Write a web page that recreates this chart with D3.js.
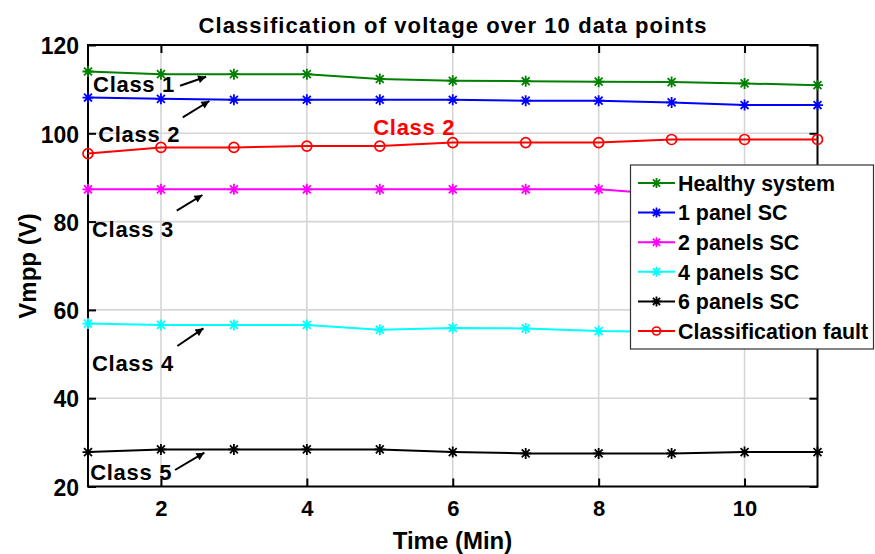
<!DOCTYPE html>
<html>
<head>
<meta charset="utf-8">
<script src="https://cdn.jsdelivr.net/npm/d3@7/dist/d3.min.js"></script>
<style>
  html, body { margin: 0; padding: 0; background: #fff; }
  svg { display: block; font-family: "Liberation Sans", Arial, Helvetica, sans-serif; font-weight: bold; }
</style>
</head>
<body>
<svg id="chart" width="875" height="554"></svg>
<script>
// Time in minutes (data point index)
const timeMin = [1, 2, 3, 4, 5, 6, 7, 8, 9, 10, 11];

// Vmpp (V) for each operating condition
const healthySystem = [114.0, 113.4, 113.4, 113.4, 112.3, 111.9, 111.8, 111.7, 111.6, 111.3, 110.9];
const panel1SC      = [108.1, 107.8, 107.6, 107.6, 107.6, 107.6, 107.4, 107.4, 107.0, 106.4, 106.4];
const panels2SC     = [87.3, 87.3, 87.3, 87.3, 87.3, 87.3, 87.3, 87.3, 86.1, 86.1, 86.1];
const panels4SC     = [56.9, 56.6, 56.6, 56.6, 55.5, 55.9, 55.8, 55.2, 55.0, 55.0, 55.0];
const panels6SC     = [27.8, 28.4, 28.4, 28.4, 28.4, 27.8, 27.5, 27.5, 27.5, 27.8, 27.8];
const classFault    = [95.4, 96.8, 96.8, 97.1, 97.1, 97.9, 97.9, 97.9, 98.6, 98.6, 98.6];

const seriesNames   = ["Healthy system", "1 panel SC", "2 panels SC", "4 panels SC", "6 panels SC", "Classification fault"];
const seriesColors  = ["#008000", "#0000ff", "#ff00ff", "#00ffff", "#000000", "#ff0000"];
const seriesMarkers = ["star", "star", "star", "star", "star", "circle"];
const seriesValues  = [healthySystem, panel1SC, panels2SC, panels4SC, panels6SC, classFault];

const xTicks = [2, 4, 6, 8, 10];
const yTicks = [20, 40, 60, 80, 100, 120];

// Text annotations placed in data coordinates (x in Min, y in V)
const noteTexts  = ["Class 1", "Class 2", "Class 2", "Class 3", "Class 4", "Class 5"];
const noteColors = ["#000000", "#000000", "#ff0000", "#000000", "#000000", "#000000"];
const noteX      = [1.07, 1.14, 4.91, 1.055, 1.055, 1.03];
const noteY      = [109.35, 98.03, 99.6, 76.58, 46.27, 21.47];

// Arrows in data coordinates: tail -> head
const arrowTailX = [2.262, 2.299, 2.217, 2.225, 2.193];
const arrowTailY = [110.78, 103.62, 82.47, 51.82, 23.74];
const arrowHeadX = [2.619, 2.664, 2.568, 2.582, 2.595];
const arrowHeadY = [112.82, 107.32, 86.03, 55.83, 27.66];

// ---- drawing ----
(function draw() {
  const svg = d3.select("#chart");
  const pLeft = 88, pRight = 817.5, pTop = 45, pBottom = 486.5;

  const x = d3.scaleLinear().domain([1, 11]).range([pLeft, pRight]);
  const y = d3.scaleLinear().domain([20, 120]).range([pBottom, pTop]);

  // grid
  const grid = svg.append("g").attr("stroke", "#d6d6d6").attr("stroke-width", 1.6);
  grid.selectAll("line.gx").data(xTicks).join("line").attr("class", "gx")
    .attr("x1", d => x(d)).attr("x2", d => x(d)).attr("y1", pTop).attr("y2", pBottom);
  grid.selectAll("line.gy").data(yTicks.filter(d => d > 20 && d < 120)).join("line").attr("class", "gy")
    .attr("y1", d => y(d)).attr("y2", d => y(d)).attr("x1", pLeft).attr("x2", pRight);

  // axes with inward ticks, mirrored on top/right
  const tickLen = 8;
  const axB = svg.append("g").attr("transform", `translate(0,${pBottom})`)
    .call(d3.axisBottom(x).tickValues(xTicks).tickSizeInner(-tickLen).tickSizeOuter(0).tickPadding(14));
  const axT = svg.append("g").attr("transform", `translate(0,${pTop})`)
    .call(d3.axisTop(x).tickValues(xTicks).tickSizeInner(-tickLen).tickSizeOuter(0).tickFormat(""));
  const axL = svg.append("g").attr("transform", `translate(${pLeft},0)`)
    .call(d3.axisLeft(y).tickValues(yTicks).tickSizeInner(-tickLen).tickSizeOuter(0).tickPadding(9));
  const axR = svg.append("g").attr("transform", `translate(${pRight},0)`)
    .call(d3.axisRight(y).tickValues(yTicks).tickSizeInner(-tickLen).tickSizeOuter(0).tickFormat(""));
  [axB, axT, axL, axR].forEach(a => {
    a.select(".domain").remove();
    a.selectAll(".tick line").attr("stroke", "#000").attr("stroke-width", 2);
    a.selectAll("text").attr("fill", "#000").attr("font-size", 22)
      .attr("font-family", "'Liberation Sans', Arial, sans-serif").attr("font-weight", "bold");
  });
  axL.selectAll("text").attr("font-size", 23).attr("dy", "0.38em");

  // box
  svg.append("rect").attr("x", pLeft).attr("y", pTop).attr("width", pRight - pLeft).attr("height", pBottom - pTop)
    .attr("fill", "none").attr("stroke", "#000").attr("stroke-width", 2);

  // marker drawing helper
  function drawMarker(g, kind, cx, cy, color, r) {
    if (kind === "circle") {
      g.append("circle").attr("cx", cx).attr("cy", cy).attr("r", r)
        .attr("fill", "none").attr("stroke", color).attr("stroke-width", 1.7);
    } else {
      const d = r * 0.72;
      g.append("path")
        .attr("d", `M${cx - r},${cy}H${cx + r}M${cx},${cy - r}V${cy + r}` +
                   `M${cx - d},${cy - d}L${cx + d},${cy + d}M${cx - d},${cy + d}L${cx + d},${cy - d}`)
        .attr("stroke", color).attr("stroke-width", 1.8).attr("fill", "none");
    }
  }

  // series
  const line = d3.line().x(d => x(d[0])).y(d => y(d[1]));
  seriesValues.forEach((vals, i) => {
    const pts = timeMin.map((t, j) => [t, vals[j]]);
    const g = svg.append("g");
    g.append("path").attr("d", line(pts)).attr("fill", "none")
      .attr("stroke", seriesColors[i]).attr("stroke-width", 2);
    pts.forEach(p => drawMarker(g, seriesMarkers[i], x(p[0]), y(p[1]), seriesColors[i],
      seriesMarkers[i] === "circle" ? 5 : 5.5));
  });

  // annotations
  svg.append("defs").append("marker")
    .attr("id", "ahead").attr("viewBox", "0 0 10 10").attr("refX", 10).attr("refY", 5)
    .attr("markerWidth", 10).attr("markerHeight", 8).attr("markerUnits", "userSpaceOnUse")
    .attr("orient", "auto")
    .append("path").attr("d", "M0,0L10,5L0,10Z").attr("fill", "#000");

  arrowTailX.forEach((tx, i) => {
    svg.append("line")
      .attr("x1", x(tx)).attr("y1", y(arrowTailY[i]))
      .attr("x2", x(arrowHeadX[i])).attr("y2", y(arrowHeadY[i]))
      .attr("stroke", "#000").attr("stroke-width", 2).attr("marker-end", "url(#ahead)");
  });

  noteTexts.forEach((t, i) => {
    svg.append("text").attr("x", x(noteX[i])).attr("y", y(noteY[i]))
      .attr("font-size", 22).attr("letter-spacing", 0.7).attr("fill", noteColors[i]).text(t);
  });

  // legend
  const lg = svg.append("g");
  lg.append("rect").attr("x", 630.5).attr("y", 165).attr("width", 243).attr("height", 184)
    .attr("fill", "#fff").attr("stroke", "#333").attr("stroke-width", 1.2);
  seriesNames.forEach((n, i) => {
    const cy = 183 + i * 29.6;
    lg.append("line").attr("x1", 638).attr("x2", 675).attr("y1", cy).attr("y2", cy)
      .attr("stroke", seriesColors[i]).attr("stroke-width", 2);
    drawMarker(lg, seriesMarkers[i], 656.5, cy, seriesColors[i], seriesMarkers[i] === "circle" ? 4 : 5);
    lg.append("text").attr("x", 678).attr("y", cy).attr("dy", "0.36em")
      .attr("font-size", 21.4).attr("fill", "#000").text(n);
  });

  // titles
  svg.append("text").attr("x", 452.5).attr("y", 33).attr("text-anchor", "middle")
    .attr("font-size", 22).attr("textLength", 508).attr("lengthAdjust", "spacing")
    .text("Classification of voltage over 10 data points");
  svg.append("text").attr("x", 452.5).attr("y", 549).attr("text-anchor", "middle")
    .attr("font-size", 24).text("Time (Min)");
  svg.append("text").attr("transform", "translate(36,266) rotate(-90)").attr("text-anchor", "middle")
    .attr("font-size", 24).text("Vmpp (V)");
})();
</script>
</body>
</html>
